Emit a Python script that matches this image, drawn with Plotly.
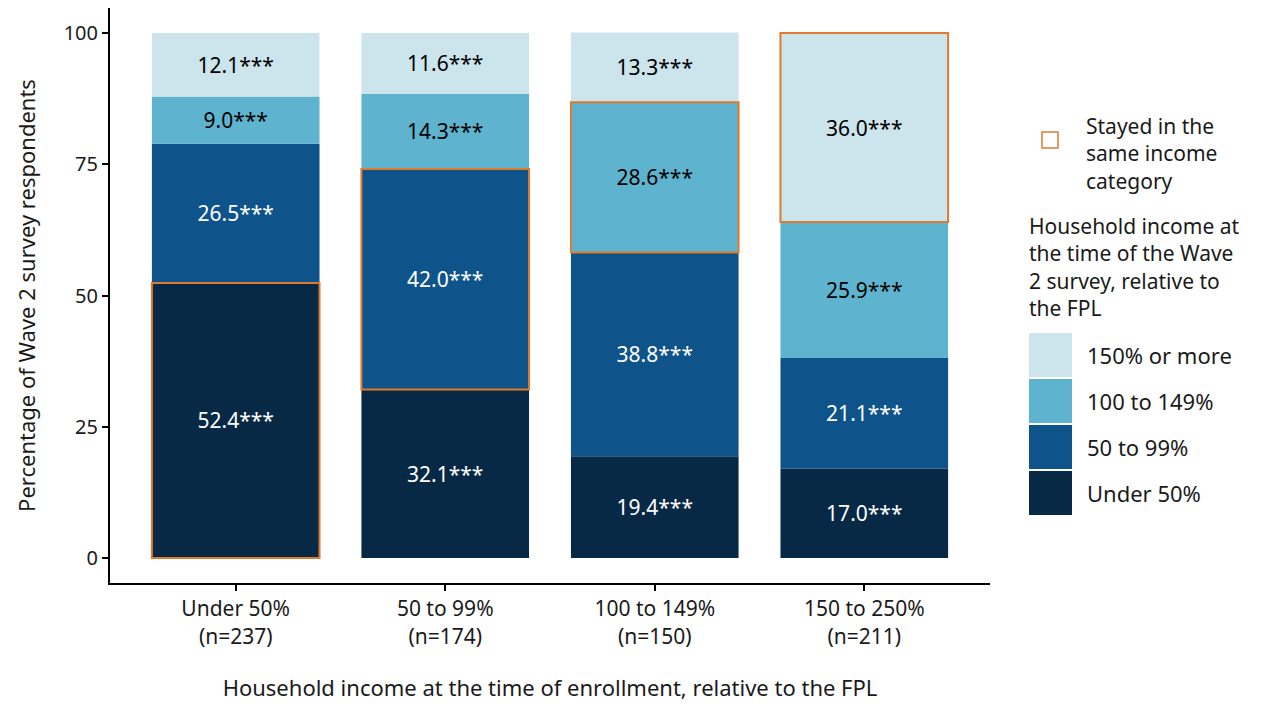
import plotly.graph_objects as go

categories = ["Under 50%<br>(n=237)", "50 to 99%<br>(n=174)", "100 to 149%<br>(n=150)", "150 to 250%<br>(n=211)"]
series_names = ["Under 50%", "50 to 99%", "100 to 149%", "150% or more"]
under50 = [52.4, 32.1, 19.4, 17.0]
to99 = [26.5, 42.0, 38.8, 21.1]
to149 = [9.0, 14.3, 28.6, 25.9]
over150 = [12.1, 11.6, 13.3, 36.0]
# index of the segment (series) in which respondents stayed in same category
stayed_series = [0, 1, 2, 3]
y_ticks = [0, 25, 50, 75, 100]

colors = ["#072945", "#0E538A", "#5EB4CF", "#CCE4EC"]
text_colors = ["white", "white", "black", "black"]
orange = "#DF7B2C"
FONT = "Noto Sans"
TXT = "#1a1a1a"

values = [under50, to99, to149, over150]
x = list(range(1, len(categories) + 1))

fig = go.Figure()
bases = [[0.0] * len(categories) for _ in values]
for s in range(1, len(values)):
    bases[s] = [bases[s - 1][i] + values[s - 1][i] for i in range(len(categories))]

for s, (vals, name) in enumerate(zip(values, series_names)):
    fig.add_trace(go.Bar(
        x=x, y=vals, base=bases[s], name=name, width=0.8,
        marker=dict(color=colors[s], line=dict(width=0)),
        text=[f"{v:.1f}***" for v in vals], textposition="inside",
        insidetextanchor="middle", textangle=0, constraintext="none",
        textfont=dict(color=text_colors[s], size=21, family=FONT),
        showlegend=False, hoverinfo="skip",
    ))

# outline trace for "stayed in same category"
fig.add_trace(go.Bar(
    x=x, y=[values[stayed_series[i]][i] for i in range(len(x))],
    base=[bases[stayed_series[i]][i] for i in range(len(x))],
    width=0.8, marker=dict(color="rgba(0,0,0,0)", line=dict(color=orange, width=2)),
    showlegend=False, hoverinfo="skip",
))

OFF = 8  # page body margin
W, H = 1263 - OFF, 706 - OFF
L, R, T, B = 110 - OFF, 273, 0, 123
pw, ph = W - L - R, H - T - B


def px(xp):
    return (xp - OFF - L) / pw


def py(yp):
    return (H - B - (yp - OFF)) / ph


shapes = []
annotations = []
LF = 21
# legend for outline
shapes.append(dict(type="rect", xref="paper", yref="paper", x0=px(1042), x1=px(1058), y0=py(148), y1=py(132),
                   line=dict(color=orange, width=1.5), fillcolor="white"))
annotations.append(dict(xref="paper", yref="paper", x=px(1084), y=py(154), xanchor="left", yanchor="middle",
                        text="Stayed in the<br>same income<br>category", showarrow=False, align="left",
                        font=dict(size=LF, family=FONT, color=TXT)))
annotations.append(dict(xref="paper", yref="paper", x=px(1027), y=py(267), xanchor="left", yanchor="middle",
                        text="Household income at<br>the time of the Wave<br>2 survey, relative to<br>the FPL",
                        showarrow=False, align="left", font=dict(size=LF, family=FONT, color=TXT)))
key_tops = [333, 379, 425, 471]
legend_order = [3, 2, 1, 0]
for k, s in enumerate(legend_order):
    top = key_tops[k]
    shapes.append(dict(type="rect", xref="paper", yref="paper", x0=px(1029), x1=px(1072), y0=py(top + 44), y1=py(top),
                       line=dict(width=0), fillcolor=colors[s]))
    annotations.append(dict(xref="paper", yref="paper", x=px(1085), y=py(top + 22), xanchor="left", yanchor="middle",
                            text=series_names[s], showarrow=False, font=dict(size=22, family=FONT, color=TXT)))

ppu = (558 - 33) / 100.0  # pixels per unit in reference
y_lo = -(583 - 558) / ppu
y_hi = 100 + (33 - OFF) / ppu

fig.update_layout(
    width=W, height=H, barmode="overlay",
    margin=dict(l=L, r=R, t=T, b=B),
    plot_bgcolor="white", paper_bgcolor="white",
    font=dict(family=FONT, size=21, color=TXT),
    shapes=shapes, annotations=annotations,
    xaxis=dict(range=[0.4, 4.6], tickvals=x, ticktext=categories, showline=True, linecolor="black", linewidth=2,
               ticks="outside", ticklen=6, tickwidth=1.5, tickcolor="black", showgrid=False, zeroline=False,
               tickfont=dict(size=21, family=FONT, color=TXT),
               title=dict(text="Household income at the time of enrollment, relative to the FPL", standoff=32,
                          font=dict(size=22, family=FONT, color=TXT))),
    yaxis=dict(range=[y_lo, y_hi], tickvals=y_ticks, showline=True, linecolor="black", linewidth=2,
               ticks="outside", ticklen=6, tickwidth=1.5, tickcolor="black", showgrid=False, zeroline=False,
               tickfont=dict(size=20, family=FONT, color=TXT),
               title=dict(text="Percentage of Wave 2 survey respondents", standoff=22,
                          font=dict(size=22, family=FONT, color=TXT))),
)

fig.write_html("out.html")
